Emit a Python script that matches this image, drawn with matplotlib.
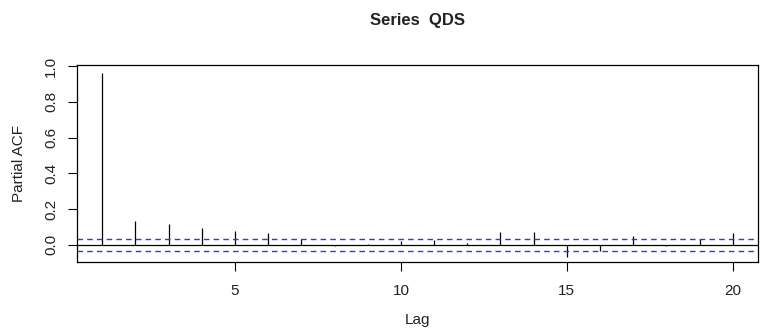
import matplotlib.pyplot as plt
import numpy as np

plt.rcParams['font.family'] = ['Liberation Sans', 'DejaVu Sans']

# partial autocorrelation values
lags = np.arange(1, 21)
pacf = [0.962, 0.133, 0.116, 0.094, 0.079, 0.067, 0.030, -0.006, 0.005, 0.019,
        0.029, 0.013, 0.073, 0.073, -0.066, -0.034, 0.047, -0.009, 0.032, 0.066]
ci = 0.033
xticks = [5, 10, 15, 20]
yticks = [0.0, 0.2, 0.4, 0.6, 0.8, 1.0]

fig = plt.figure(figsize=(7.61, 3.28), dpi=100)
ax = fig.add_axes([77 / 761, (328 - 262) / 328, (758 - 77) / 761, (262 - 65) / 328])

ax.vlines(lags, 0, pacf, color='black', linewidth=0.9)
ax.axhline(0, color='black', linewidth=0.9)
ax.axhline(ci, color='#2244cc', linestyle=(0, (4, 3)), linewidth=1.0)
ax.axhline(-ci, color='#2244cc', linestyle=(0, (4, 3)), linewidth=1.0)

ax.set_xlim(0.24, 20.76)
ax.set_ylim(-0.096, 1.006)
ax.set_xticks(xticks)
ax.set_yticks(yticks)
ax.set_yticklabels([f'{v:.1f}' for v in yticks], rotation=90, va='center')
ax.tick_params(direction='out', length=6.5, width=0.8, labelsize=11,
               labelcolor='#222222')
ax.tick_params(axis='x', pad=9)
ax.tick_params(axis='y', pad=7)

for s in ax.spines.values():
    s.set_linewidth(0.9)

xmid = (77 + 758) / 2 / 761
fig.text(xmid, 1 - 320 / 328, 'Lag', ha='center', va='center', fontsize=11,
         color='#222222')
fig.text(19 / 761, 1 - 163 / 328, 'Partial ACF', ha='center',
         va='center', rotation=90, fontsize=11, color='#222222')
fig.text(xmid, 1 - 21 / 328, 'Series  QDS', ha='center', va='center',
         fontsize=12, fontweight='bold', color='#222222')

fig.savefig('out.png', dpi=100)
